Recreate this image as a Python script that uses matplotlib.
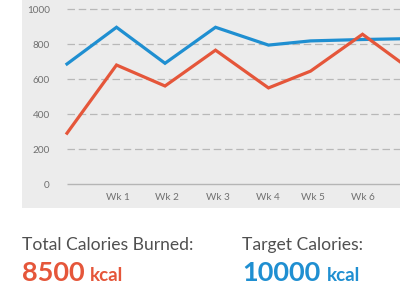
import matplotlib
matplotlib.use("Agg")
import matplotlib.pyplot as plt

plt.rcParams['font.family'] = ['Lato', 'DejaVu Sans']

# data
weeks_x = [0, 1.0, 1.98, 3.0, 4.07, 4.92, 5.97, 6.73]
target = [688, 898, 692, 898, 796, 820, 828, 832]
burned = [292, 682, 562, 767, 551, 647, 858, 700]
tick_x = [1.02, 2.02, 3.04, 4.05, 4.97, 5.98]
tick_labels = ['Wk 1', 'Wk 2', 'Wk 3', 'Wk 4', 'Wk 5', 'Wk 6']
y_ticks = [0, 200, 400, 600, 800, 1000]

red = '#e5563a'
blue = '#1f8fd1'
panel = '#ececec'

fig = plt.figure(figsize=(4, 3), dpi=100)
fig.patch.set_facecolor('white')

ax = fig.add_axes([22/400, 92/300, 378/400, 208/300])
ax.set_facecolor(panel)
ax.set_xlim(-0.909, 6.727)
ax.set_ylim(-136, 1054)
for s in ax.spines.values():
    s.set_visible(False)

# grid: solid zero line, dashed others, starting at the first point
for v in y_ticks:
    if v == 0:
        ax.hlines(v, 0, 6.727, color='#b5b5b5', lw=1, zorder=1)
    else:
        ax.hlines(v, 0, 6.727, color='#b8b8b8', lw=0.9, linestyles=(0, (6, 3)), zorder=1)

ax.plot(weeks_x, target, color=blue, lw=2.3, solid_joinstyle='miter', zorder=3)
ax.plot(weeks_x, burned, color=red, lw=2.3, solid_joinstyle='miter', zorder=3)

ax.set_yticks(y_ticks)
ax.set_yticklabels([str(v) for v in y_ticks])
ax.set_xticks(tick_x)
ax.set_xticklabels(tick_labels)
ax.tick_params(axis='y', length=0, pad=-20, labelsize=7.2, labelcolor='#707070')
ax.tick_params(axis='x', length=0, pad=-10.5, labelsize=7.2, labelcolor='#707070')

fig.text(22/400, 50/300, 'Total Calories Burned:', fontsize=12.6, color='#505050', va='baseline')
fig.text(22/400, 19/300, '8500', fontsize=19.5, color=red, fontweight='bold', va='baseline')
fig.text(90/400, 19/300, 'kcal', fontsize=13.5, color=red, fontweight='bold', va='baseline')

fig.text(242/400, 50/300, 'Target Calories:', fontsize=12.6, color='#505050', va='baseline')
fig.text(242/400, 19/300, '10000', fontsize=19.5, color=blue, fontweight='bold', va='baseline')
fig.text(327/400, 19/300, 'kcal', fontsize=13.5, color=blue, fontweight='bold', va='baseline')

fig.savefig('out.png', dpi=100)
